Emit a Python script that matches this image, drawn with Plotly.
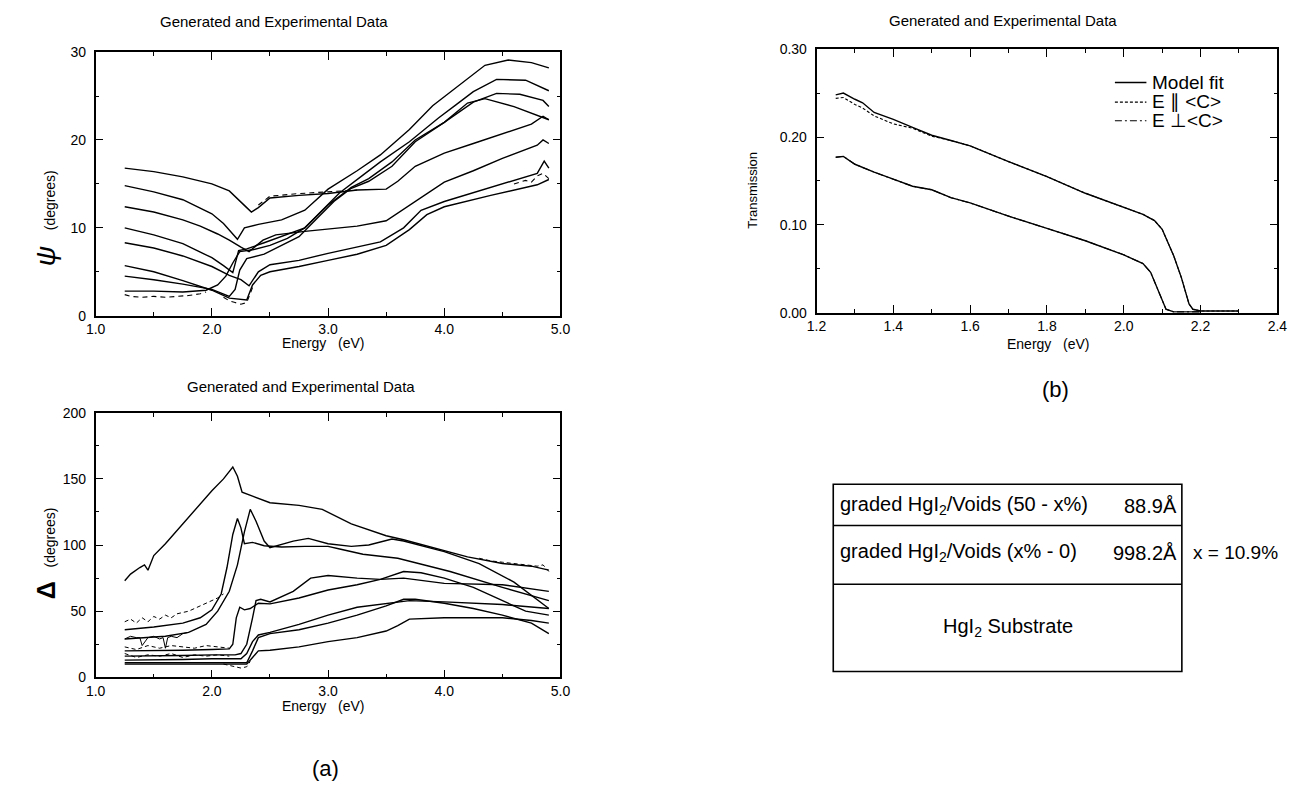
import plotly.graph_objects as go

W, H = 1312, 799
FONT = "Liberation Sans, Arial, Helvetica, sans-serif"

# ---------------- psi panel: model fits ----------------
psi1_E = [1.25,1.5,1.75,2.0,2.15,2.25,2.3,2.34,2.4,2.5,2.75,3.0,3.25,3.5,3.6,3.75,4.0,4.25,4.5,4.75,4.85,4.9]
psi1   = [16.8,16.4,15.8,15.0,14.2,13.0,12.3,11.8,12.3,13.4,13.7,13.9,14.3,14.4,15.3,17.0,18.5,19.6,20.7,21.8,22.7,22.3]
psi2_E = [1.25,1.5,1.75,2.0,2.1,2.18,2.22,2.28,2.4,2.6,2.8,3.0,3.25,3.45,3.7,3.9,4.15,4.35,4.55,4.75,4.9]
psi2   = [14.8,14.1,13.2,11.6,10.5,9.3,8.7,10.0,10.4,10.9,12.0,14.4,16.5,18.3,21.2,23.9,26.5,28.5,29.1,28.8,28.2]
psi3_E = [1.25,1.5,1.75,1.9,2.05,2.15,2.25,2.32,2.44,2.55,2.8,3.0,3.25,3.5,3.75,4.0,4.25,4.5,4.8,4.85,4.9]
psi3   = [12.4,11.8,10.9,10.2,9.3,8.6,7.8,7.3,8.6,9.2,9.6,9.9,10.2,10.8,13.0,15.2,16.5,17.9,19.4,20.0,19.6]
psi4_E = [1.25,1.5,1.75,2.0,2.1,2.18,2.23,2.3,2.45,2.6,2.8,3.0,3.2,3.35,3.55,3.75,4.0,4.25,4.45,4.65,4.85,4.9]
psi4   = [10.0,9.2,8.2,6.6,5.7,4.9,7.4,7.6,8.3,9.0,10.0,12.6,14.6,15.6,17.5,20.0,22.0,24.3,25.3,25.2,24.5,23.8]
psi5_E = [1.25,1.5,1.75,2.0,2.15,2.25,2.32,2.4,2.5,2.75,3.0,3.25,3.45,3.65,3.8,4.0,4.4,4.8,4.86,4.9]
psi5   = [8.3,7.7,6.8,5.6,4.6,4.1,3.4,5.0,5.8,6.3,7.1,7.8,8.4,10.0,12.0,13.0,14.6,16.2,17.6,16.8]
psi6_E = [1.25,1.5,1.75,2.0,2.15,2.3,2.35,2.42,2.5,2.75,3.0,3.25,3.5,3.7,3.85,4.0,4.4,4.8,4.9]
psi6   = [5.7,5.0,4.0,2.9,2.0,1.8,3.5,4.6,5.0,5.6,6.3,7.0,8.0,9.8,11.5,12.4,13.7,14.9,15.5]
psi7_E = [1.25,1.5,1.75,2.0,2.15,2.2,2.24,2.3,2.45,2.6,2.75,2.9,3.05,3.2,3.35,3.55,3.75,4.0,4.2,4.35,4.6,4.9]
psi7   = [4.5,4.1,3.6,3.0,2.2,3.0,5.2,6.5,7.0,8.0,9.0,11.0,13.0,14.5,15.3,17.0,19.8,22.0,24.2,24.7,23.8,22.3]
psi8_E = [1.25,1.5,1.75,1.95,2.05,2.12,2.18,2.24,2.35,2.5,2.65,2.8,2.95,3.1,3.3,3.45,3.7,3.95,4.1,4.25,4.45,4.7,4.9]
psi8   = [2.8,2.8,2.7,2.9,3.5,4.5,6.0,7.3,7.5,8.0,8.8,10.0,12.0,14.0,16.0,17.5,19.8,22.5,24.0,25.5,26.9,26.8,25.6]

# psi panel: experimental segments that separate from the fits
psi8x_E = [1.25,1.3,1.4,1.5,1.6,1.7,1.8,1.9,1.95]
psi8x   = [2.4,2.2,2.1,2.2,2.1,2.2,2.3,2.5,2.7]
psi6x_E = [2.1,2.15,2.2,2.25,2.3,2.35]
psi6x   = [2.1,1.7,1.5,1.3,1.5,3.2]
psi1x_E = [2.4,2.5,2.75,3.0,3.25]
psi1x   = [12.6,13.6,13.9,14.1,14.3]
psi6y_E = [4.6,4.7,4.75,4.8,4.85,4.9]
psi6y   = [15.0,15.4,15.2,15.9,16.2,15.6]

# ---------------- Delta panel: model fits ----------------
d1_E = [1.25,1.3,1.38,1.42,1.45,1.5,1.6,1.7,1.8,1.9,2.0,2.1,2.18,2.22,2.26,2.35,2.5,2.75,2.95,3.2,3.5,3.65,3.9,4.2,4.5,4.75,4.9]
d1   = [73,78,83,85,81,92,101,111,121,131,141,150,159,152,140,137,132,130,127,116,107,104,98,91,86,84,81]
d2_E = [1.25,1.5,1.75,1.9,2.0,2.08,2.13,2.18,2.22,2.25,2.28,2.35,2.45,2.6,2.8,3.0,3.1,3.3,3.6,4.05,4.5,4.9]
d2   = [36,38,41,45,51,63,83,108,120,113,101,102,99.5,98.5,99,99,97,93,90,80,68,58]
d3_E = [1.25,1.4,1.6,1.8,1.95,2.05,2.15,2.22,2.28,2.33,2.38,2.45,2.5,2.7,2.83,3.0,3.2,3.35,3.55,3.65,4.0,4.3,4.6,4.9]
d3   = [29,30,31,34,40,50,65,85,110,127,118,103,98,103,105,101,99,100,104.5,103,95,86,72,52]
d4_E = [1.25,1.5,1.75,2.0,2.15,2.18,2.21,2.24,2.28,2.33,2.4,2.5,2.75,3.0,3.25,3.45,3.65,3.8,4.0,4.25,4.5,4.7,4.9]
d4   = [20,20,20.5,21,21.5,25,45,53,51,52,56,55.5,60,66,70,74,80,79,75,68,58,50,47]
d5_E = [1.25,1.5,1.75,2.0,2.2,2.25,2.3,2.35,2.38,2.42,2.5,2.7,2.85,3.0,3.25,3.45,3.65,4.0,4.5,4.9]
d5   = [16,16,16.5,17,17,18,25,45,58,59,57,65,75,77,75,74,75,71,70,65]
d6_E = [1.25,1.5,1.75,2.0,2.25,2.3,2.35,2.4,2.5,2.75,3.0,3.25,3.5,3.7,4.0,4.5,4.9]
d6   = [13,13,13.5,14,14,18,27,32,34,40,47,53,56,58,57,55,52]
d7_E = [1.25,1.5,1.75,2.0,2.3,2.35,2.4,2.5,2.75,3.0,3.25,3.5,3.65,3.75,4.0,4.25,4.5,4.75,4.9]
d7   = [11,11,11,11,11,20,30,33,36,41,47,54,59,59,56,52,47,41,33]
d8_E = [1.25,1.5,1.75,2.0,2.3,2.35,2.4,2.5,2.75,3.0,3.25,3.5,3.6,3.7,4.0,4.5,4.75,4.9]
d8   = [10,10,10,10,10,15,20,20.5,23,27,30,35,39,44,45,45,43,41]

# Delta panel: experimental segments
d2x_E = [1.25,1.3,1.35,1.4,1.45,1.5,1.55,1.6,1.65,1.7,1.75,1.8,1.85,1.9,1.95,2.0,2.05,2.1]
d2x   = [42,44,41,45,42,46,44,47,45,48,49,50,52,54,56,58,60,63]
d3x_E = [1.25,1.3,1.35,1.38,1.4,1.45,1.5,1.55,1.58,1.6,1.62,1.65,1.7,1.75,1.8]
d3x   = [29,31,30,30,24,30,31,29,30,22,30,31,30,33,34]
d4x_E = [1.25,1.35,1.45,1.55,1.65,1.75,1.85,1.95,2.05,2.15]
d4x   = [23,21,24,22,24,23,22,24,23,22]
d5x_E = [1.25,1.35,1.45,1.55,1.65,1.75,1.85,1.95,2.05,2.15]
d5x   = [18,15,17,16,18,15,17,16,17,16]
d7x_E = [2.1,2.15,2.2,2.25,2.3,2.33]
d7x   = [10,9,8,7,8,12]
d1x_E = [4.3,4.4,4.5,4.6,4.7,4.8,4.85,4.9]
d1x   = [90,88,87,86,85,84,85,80]

# ---------------- Transmission panel ----------------
t_hi_E = [1.25,1.27,1.3,1.32,1.35,1.4,1.45,1.5,1.55,1.6,1.7,1.8,1.9,2.0,2.05,2.08,2.1,2.13,2.15,2.17,2.18,2.2,2.3]
t_hi   = [0.248,0.250,0.243,0.239,0.228,0.220,0.211,0.202,0.196,0.190,0.172,0.155,0.136,0.120,0.112,0.105,0.095,0.065,0.040,0.010,0.004,0.002,0.002]
t_par  = [0.244,0.245,0.237,0.233,0.224,0.215,0.210,0.201,0.196,0.190,0.172,0.155,0.136,0.120,0.112,0.105,0.095,0.065,0.040,0.010,0.004,0.002,0.002]
t_lo_E = [1.25,1.27,1.3,1.35,1.4,1.45,1.5,1.55,1.6,1.7,1.8,1.9,2.0,2.05,2.07,2.09,2.11,2.13,2.2]
t_lo   = [0.177,0.178,0.169,0.160,0.152,0.144,0.140,0.131,0.125,0.110,0.096,0.082,0.066,0.056,0.046,0.024,0.004,0.001,0.001]

legend_names = ["Model fit", "E \u2225 <C>", "E \u22a5<C>"]

def px(x):
    return x / W

def py(y):
    return 1 - y / H

fig = go.Figure()

def line(xs, ys, xa, ya, dash="solid", width=1.4):
    fig.add_trace(go.Scatter(x=xs, y=ys, mode="lines", xaxis=xa, yaxis=ya,
                             line=dict(color="black", width=width, dash=dash),
                             showlegend=False, hoverinfo="skip"))

psi_fits = [(psi1_E, psi1), (psi2_E, psi2), (psi3_E, psi3), (psi4_E, psi4),
            (psi5_E, psi5), (psi6_E, psi6), (psi7_E, psi7), (psi8_E, psi8)]
for e, v in psi_fits:
    line(e, v, "x", "y")
for e, v in [(psi8x_E, psi8x), (psi6x_E, psi6x), (psi1x_E, psi1x), (psi6y_E, psi6y)]:
    line(e, v, "x", "y", dash="5px,4px", width=1.1)

d_fits = [(d1_E, d1), (d2_E, d2), (d3_E, d3), (d4_E, d4),
          (d5_E, d5), (d6_E, d6), (d7_E, d7), (d8_E, d8)]
for e, v in d_fits:
    line(e, v, "x2", "y2")
for e, v in [(d2x_E, d2x), (d4x_E, d4x), (d5x_E, d5x), (d7x_E, d7x), (d1x_E, d1x)]:
    line(e, v, "x2", "y2", dash="4px,3px", width=1.0)
line(d3x_E, d3x, "x2", "y2", width=1.0)

DASH_FIT, DASH_PAR, DASH_PERP = "solid", "3px,2px", "7px,3px,2px,3px"
line(t_hi_E, t_hi, "x3", "y3", DASH_FIT)
line(t_lo_E, t_lo, "x3", "y3", DASH_FIT)
line(t_hi_E, t_par, "x3", "y3", DASH_PAR, 1.1)
line(t_lo_E, t_lo, "x3", "y3", DASH_PERP, 1.1)

def axis(domain, rng, tick0, dtick, mdtick, fmt, anchor, standoff=0):
    return dict(domain=domain, range=rng, tick0=tick0, dtick=dtick, tickformat=fmt,
                ticks="inside", ticklen=8, tickwidth=1.2, tickcolor="black",
                showline=True, linecolor="black", linewidth=1.6, mirror="ticks",
                showgrid=False, zeroline=False, anchor=anchor, fixedrange=True,
                ticklabelstandoff=standoff,
                tickfont=dict(family=FONT, size=14, color="black"),
                minor=dict(ticks="inside", ticklen=4, tickwidth=1.0, tickcolor="black",
                           dtick=mdtick, showgrid=False))

xd_left = [px(87), px(559)]
fig.update_layout(
    width=W, height=H, margin=dict(l=0, r=0, t=0, b=0),
    paper_bgcolor="white", plot_bgcolor="white",
    font=dict(family=FONT, color="black"),
    showlegend=False,
    xaxis=axis(xd_left, [1.0, 5.0], 1.0, 1.0, 0.5, ".1f", "y"),
    yaxis=axis([py(314), py(45)], [0, 30], 0, 10, 5, "d", "x", 5),
    xaxis2=axis(xd_left, [1.0, 5.0], 1.0, 1.0, 0.5, ".1f", "y2"),
    yaxis2=axis([py(683), py(413)], [0, 200], 0, 50, 25, "d", "x2", 5),
    xaxis3=axis([px(819), px(1287)], [1.2, 2.4], 1.2, 0.2, 0.1, ".1f", "y3"),
    yaxis3=axis([py(311), py(42)], [0, 0.30], 0, 0.10, 0.05, ".2f", "x3", 5),
)

ann = []
def text(x, y, s, size=14, angle=0, xanchor="center"):
    ann.append(dict(x=px(x), y=py(y), xref="paper", yref="paper", text=s, showarrow=False,
                    font=dict(family=FONT, size=size, color="black"), textangle=angle,
                    xanchor=xanchor, yanchor="middle"))

title = "Generated and Experimental Data"
text(268, 14, title, 15)
text(296, 386, title, 15)
text(1008, 13, title, 15)
text(318, 342, "Energy &nbsp;&nbsp;(eV)", 14)
text(318, 712, "Energy &nbsp;&nbsp;(eV)", 14)
text(1054, 343, "Energy &nbsp;&nbsp;(eV)", 14)
text(36, 214, "<i>\u03c8</i> &nbsp;<span style='font-size:14px'>(degrees)</span>", 28, -90)
text(36, 556, "<b>\u0394</b> &nbsp;<span style='font-size:14px'>(degrees)</span>", 25, -90)
text(754, 186, "Transmission", 13, -90)
text(320, 776, "(a)", 22)
text(1062, 389, "(b)", 22)

shapes = []
# legend of the transmission panel (sample line + label)
leg_y = [76, 96, 115]
for name, dash, yy in zip(legend_names, [DASH_FIT, DASH_PAR, DASH_PERP], leg_y):
    shapes.append(dict(type="line", xref="paper", yref="paper", x0=px(1122), x1=px(1154),
                       y0=py(yy), y1=py(yy),
                       line=dict(color="black", width=1.3 if dash == "solid" else 1.1, dash=dash)))
    text(1158, yy, name, 19, xanchor="left")

# layer-stack table
tx0, tx1 = 836, 1190
ty = [486, 528, 588, 677]
shapes.append(dict(type="rect", xref="paper", yref="paper", x0=px(tx0), x1=px(tx1),
                   y0=py(ty[3]), y1=py(ty[0]), line=dict(color="black", width=1.6)))
for yy in ty[1:3]:
    shapes.append(dict(type="line", xref="paper", yref="paper", x0=px(tx0), x1=px(tx1),
                       y0=py(yy), y1=py(yy), line=dict(color="black", width=1.6)))
text(841, 508, "graded HgI<sub>2</sub>/Voids (50 - x%)", 20, xanchor="left")
text(1187, 508, "88.9\u00c5", 20, xanchor="right")
text(841, 556, "graded HgI<sub>2</sub>/Voids (x% - 0)", 20, xanchor="left")
text(1187, 556, "998.2\u00c5", 20, xanchor="right")
text(1199, 556, "x = 10.9%", 19, xanchor="left")
text(1013, 632, "HgI<sub>2</sub> Substrate", 20)

fig.update_layout(annotations=ann, shapes=shapes)
fig.write_html("out.html")
